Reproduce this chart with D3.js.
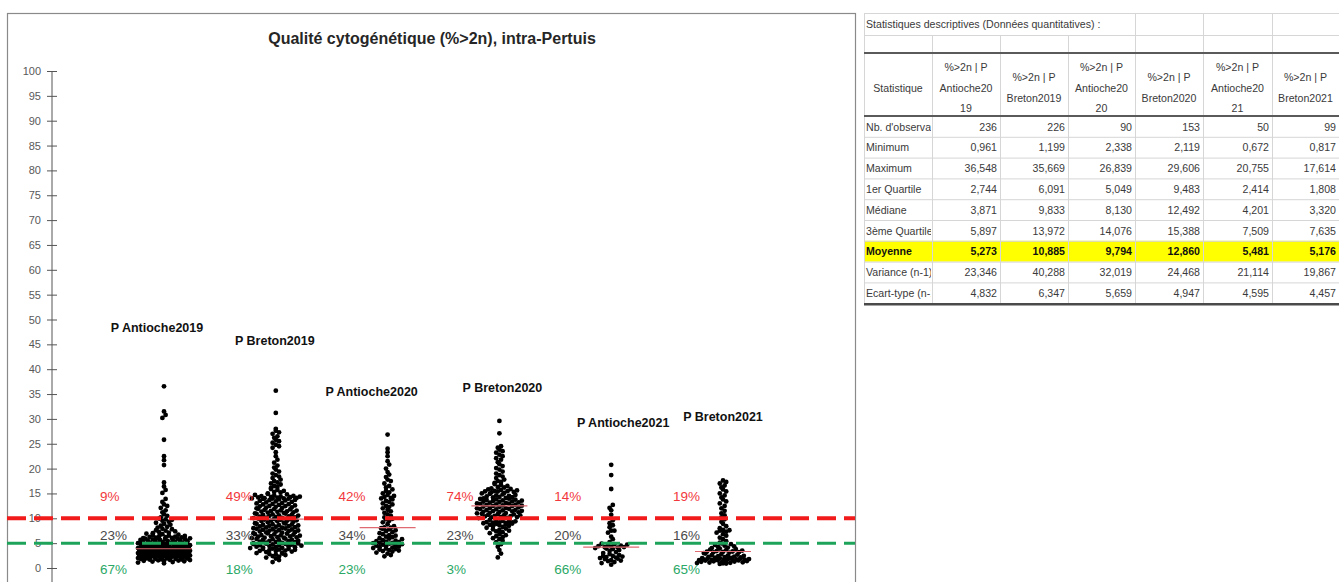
<!DOCTYPE html>
<html>
<head>
<meta charset="utf-8">
<script src="https://cdn.jsdelivr.net/npm/d3@7"></script>
<style>
  body { margin: 0; background: #fff; }
  svg { display: block; }
</style>
</head>
<body>
<svg id="chart" width="1339" height="582"></svg>
<script>
// ---------- data ----------
const categories = ["P Antioche2019", "P Breton2019", "P Antioche2020", "P Breton2020", "P Antioche2021", "P Breton2021"];
const tableHeaders = [["%>2n | P", "Antioche20", "19"], ["%>2n | P", "Breton2019"], ["%>2n | P", "Antioche20", "20"],
                      ["%>2n | P", "Breton2020"], ["%>2n | P", "Antioche20", "21"], ["%>2n | P", "Breton2021"]];

// % cells >2n per sample, one array per site/year
const antioche2019 = [
  0.96, 1.1, 1.2, 1.3, 1.35, 1.4, 1.45, 1.5, 1.55, 1.6, 1.65, 1.7, 1.72, 1.75, 1.8, 1.82, 1.85, 1.9, 1.92, 1.95,
  2.0, 2.02, 2.05, 2.08, 2.1, 2.12, 2.15, 2.18, 2.2, 2.22, 2.25, 2.28, 2.3, 2.32, 2.35, 2.38, 2.4, 2.42, 2.44, 2.46,
  2.48, 2.5, 2.52, 2.54, 2.56, 2.58, 2.6, 2.61, 2.62, 2.63, 2.64, 2.65, 2.66, 2.67, 2.68, 2.69, 2.7, 2.72, 2.74,
  2.75, 2.77, 2.78, 2.8, 2.83, 2.85, 2.86, 2.88, 2.9, 2.93, 2.95, 2.96, 2.98, 3.0, 3.02, 3.05, 3.07, 3.08, 3.1, 3.12,
  3.15, 3.17, 3.2, 3.22, 3.24, 3.25, 3.28, 3.3, 3.33, 3.35, 3.37, 3.4, 3.42, 3.44, 3.47, 3.5, 3.52, 3.54, 3.56, 3.58,
  3.6, 3.62, 3.64, 3.66, 3.68, 3.7, 3.72, 3.74, 3.76, 3.78, 3.8, 3.81, 3.82, 3.83, 3.84, 3.85, 3.86, 3.87, 3.87,
  3.872, 3.9, 3.92, 3.95, 3.98, 4.0, 4.03, 4.05, 4.08, 4.1, 4.13, 4.15, 4.18, 4.2, 4.23, 4.26, 4.29, 4.32, 4.35, 4.38,
  4.41, 4.44, 4.47, 4.5, 4.53, 4.56, 4.6, 4.63, 4.66, 4.7, 4.73, 4.76, 4.8, 4.83, 4.86, 4.89, 4.92, 4.95, 4.97, 4.99, 4.995,
  5.0, 5.05, 5.1, 5.12, 5.2, 5.25, 5.3, 5.33, 5.4, 5.45, 5.5, 5.55, 5.6, 5.65, 5.7, 5.76, 5.8, 5.85,
  5.9, 5.92, 5.95, 5.98, 6.0, 6.05, 6.1, 6.15, 6.2, 6.25, 6.3, 6.4, 6.45, 6.5, 6.6, 6.7, 6.8, 6.9, 7.0, 7.1,
  7.2, 7.35, 7.5, 7.6, 7.8, 7.9, 8.1, 8.3, 8.5, 8.7, 8.9, 9.1, 9.3, 9.5, 9.7, 9.8, 9.95,
  10.2, 10.5, 10.8, 11.2, 11.6, 12.1, 12.5, 12.8, 13.3, 13.9, 15.1, 15.7, 16.4, 17.2, 20.7, 21.7, 22.5, 25.8,
  30.2, 30.8, 31.5, 36.55
];
const breton2019 = [
  1.2, 1.6, 1.9, 2.1, 2.3, 2.4, 2.6, 2.7, 2.8, 2.9, 3.0, 3.1, 3.2, 3.3, 3.4, 3.45, 3.5, 3.6, 3.65, 3.7,
  3.8, 3.85, 3.9, 4.0, 4.05, 4.1, 4.2, 4.25, 4.3, 4.4, 4.45, 4.5, 4.55, 4.6, 4.7, 4.75, 4.8, 4.85, 4.9, 4.95,
  5.0, 5.05, 5.1, 5.2, 5.25, 5.3, 5.4, 5.45, 5.5, 5.6, 5.65, 5.7, 5.8, 5.85, 5.9, 6.0, 6.09,
  6.1, 6.15, 6.2, 6.3, 6.35, 6.4, 6.5, 6.55, 6.6, 6.7, 6.75, 6.8, 6.9, 6.95, 7.0, 7.1, 7.15, 7.2, 7.3, 7.35,
  7.4, 7.5, 7.55, 7.6, 7.7, 7.75, 7.8, 7.9, 7.95, 8.0, 8.1, 8.15, 8.2, 8.3, 8.35, 8.4, 8.5, 8.55, 8.6, 8.7,
  8.75, 8.8, 8.9, 8.95, 9.0, 9.1, 9.2, 9.3, 9.4, 9.45, 9.5, 9.55, 9.6, 9.7, 9.75, 9.8, 9.86, 9.95,
  10.05, 10.1, 10.15, 10.2, 10.3, 10.35, 10.4, 10.5, 10.55, 10.6, 10.7, 10.75, 10.8, 10.9, 10.95, 11.0, 11.1, 11.15, 11.2, 11.3,
  11.35, 11.4, 11.5, 11.55, 11.6, 11.7, 11.8, 11.85, 11.9, 12.0, 12.1, 12.15, 12.2, 12.3, 12.4, 12.45, 12.5, 12.6, 12.7, 12.8,
  12.85, 12.9, 13.0, 13.1, 13.2, 13.3, 13.4, 13.5, 13.6, 13.65, 13.7, 13.8, 13.9, 13.95,
  13.98, 14.0, 14.02, 14.05, 14.1, 14.15, 14.2, 14.25, 14.3, 14.35, 14.4, 14.45, 14.5, 14.6, 14.7, 14.8, 14.9,
  15.0, 15.2, 15.3, 15.5, 15.7, 15.9, 16.1, 16.3, 16.5, 16.8, 17.0, 17.2, 17.5, 17.8, 18.1, 18.4, 18.7, 19.0, 19.4, 19.8,
  20.2, 20.6, 21.2, 21.8, 22.5, 23.3, 24.2, 24.5, 24.8, 25.2, 25.5, 25.8, 26.2, 26.5, 27.0, 27.3, 27.6, 28.0, 31.2, 35.67
];
const antioche2020 = [
  2.34, 2.6, 2.9, 3.1, 3.3, 3.4, 3.5, 3.6, 3.7, 3.8, 3.9, 4.0, 4.1, 4.2, 4.3, 4.4, 4.5, 4.6, 4.7, 4.8, 4.9,
  5.0, 5.04, 5.07, 5.2, 5.3, 5.4, 5.5, 5.6, 5.8, 5.9, 6.0, 6.2, 6.3, 6.5, 6.6, 6.8, 7.0, 7.2, 7.4, 7.6,
  7.8, 7.9, 8.0, 8.1, 8.16, 8.4, 8.8, 9.2, 9.5, 9.8, 9.9,
  10.2, 10.5, 10.8, 11.1, 11.4, 11.7, 12.0, 12.3, 12.5, 12.8, 13.0, 13.3, 13.5, 13.8, 14.0,
  14.1, 14.3, 14.5, 14.7, 15.0, 15.2, 15.5, 15.8, 16.2, 16.5, 17.0, 17.5, 17.8, 18.3, 18.8, 19.3, 20.0, 20.8,
  21.5, 22.5, 23.3, 24.0, 26.84
];
const breton2020 = [
  2.12, 2.9, 3.6, 4.3, 4.8,
  5.2, 5.5, 5.8, 6.0, 6.2, 6.4, 6.6, 6.8, 7.0, 7.2, 7.35, 7.5, 7.65, 7.8, 7.95, 8.1, 8.25, 8.4, 8.5, 8.6,
  8.7, 8.8, 8.9, 8.95, 9.0, 9.05, 9.1, 9.15, 9.2, 9.25, 9.3, 9.35, 9.4, 9.48, 9.7,
  10.05, 10.1, 10.2, 10.25, 10.3, 10.4, 10.45, 10.5, 10.6, 10.65, 10.7, 10.8, 10.85, 10.9, 11.0, 11.05, 11.1, 11.2, 11.25, 11.3,
  11.4, 11.45, 11.5, 11.6, 11.65, 11.7, 11.8, 11.85, 11.9, 12.0, 12.05, 12.1, 12.2, 12.3, 12.35, 12.45, 12.49,
  12.55, 12.6, 12.7, 12.75, 12.8, 12.9, 12.95, 13.0, 13.1, 13.15, 13.2, 13.3, 13.35, 13.4, 13.5, 13.55, 13.6, 13.7, 13.75, 13.8,
  13.9, 13.95, 14.0, 14.1, 14.2, 14.25, 14.3, 14.4, 14.5, 14.6, 14.7, 14.8, 14.9, 15.0, 15.1, 15.2, 15.3, 15.39,
  15.4, 15.45, 15.5, 15.6, 15.7, 15.8, 15.9, 16.0, 16.2, 16.3, 16.5, 16.7, 16.9, 17.1, 17.3, 17.5, 17.8, 18.1, 18.4, 18.7,
  19.0, 19.4, 19.8, 20.1, 20.5, 20.9, 21.3, 21.8, 22.1, 22.5, 22.8, 23.2, 23.5, 23.8, 24.2, 24.5, 27.1, 29.6
];
const antioche2021 = [
  0.67, 1.0, 1.2, 1.4, 1.5, 1.6, 1.8, 1.9, 2.0, 2.1, 2.2, 2.3, 2.41, 2.42, 2.6, 2.8, 3.0, 3.2, 3.4, 3.6,
  3.8, 3.9, 4.0, 4.1, 4.18, 4.22, 4.3, 4.4, 4.5, 4.6, 4.7, 4.8, 4.9,
  5.2, 5.8, 6.3, 7.1, 7.5, 7.52, 8.2, 8.6, 9.0, 9.6,
  10.7, 11.6, 12.1, 12.7, 15.9, 18.7, 20.76
];
const breton2021 = [
  0.82, 0.9, 0.95, 1.0, 1.05, 1.1, 1.15, 1.2, 1.25, 1.3, 1.35, 1.4, 1.45, 1.5, 1.52, 1.55, 1.58, 1.6, 1.63, 1.66,
  1.69, 1.72, 1.75, 1.78, 1.8, 1.82, 1.86, 1.9, 1.95, 2.0, 2.05, 2.1, 2.15, 2.2, 2.25, 2.3, 2.38, 2.45, 2.5, 2.6,
  2.7, 2.8, 2.9, 3.0, 3.1, 3.15, 3.2, 3.25, 3.3, 3.32, 3.4, 3.5, 3.6, 3.7, 3.8, 3.9, 4.0, 4.1, 4.2, 4.35,
  4.5, 4.65, 4.8, 4.95,
  5.1, 5.4, 5.8, 6.1, 6.5, 6.8, 7.1, 7.3, 7.5, 7.6, 7.67, 8.0, 8.4, 8.9, 9.3, 9.8,
  10.2, 10.6, 11.0, 11.5, 12.0, 12.5, 13.0, 13.4, 13.8, 14.2, 14.6, 15.0, 15.4, 15.8, 16.2, 16.6, 17.0, 17.3, 17.61
];
const seriesValues = [antioche2019, breton2019, antioche2020, breton2020, antioche2021, breton2021];

// quality thresholds (% >2n)
const lowThreshold = 5;
const highThreshold = 10;

const yTickValues = [0, 5, 10, 15, 20, 25, 30, 35, 40, 45, 50, 55, 60, 65, 70, 75, 80, 85, 90, 95, 100];

// descriptive statistics
const statNames = ["Nb. d'observations", "Minimum", "Maximum", "1er Quartile", "Médiane", "3ème Quartile", "Moyenne", "Variance (n-1)", "Ecart-type (n-1)"];
const statCount    = [236, 226, 90, 153, 50, 99];
const statMin      = [0.961, 1.199, 2.338, 2.119, 0.672, 0.817];
const statMax      = [36.548, 35.669, 26.839, 29.606, 20.755, 17.614];
const statQ1       = [2.744, 6.091, 5.049, 9.483, 2.414, 1.808];
const statMedian   = [3.871, 9.833, 8.130, 12.492, 4.201, 3.320];
const statQ3       = [5.897, 13.972, 14.076, 15.388, 7.509, 7.635];
const statMean     = [5.273, 10.885, 9.794, 12.860, 5.481, 5.176];
const statVariance = [23.346, 40.288, 32.019, 24.468, 21.114, 19.867];
const statStd      = [4.832, 6.347, 5.659, 4.947, 4.595, 4.457];

// ---------- layout ----------
const svg = d3.select("#chart");
const FONT = "'Liberation Sans', Arial, sans-serif";

const frame = { left: 7, top: 13, right: 855, bottom: 600 };
const y = d3.scaleLinear().domain([0, 100]).range([568, 71]);
const x = d3.scaleLinear().domain([0, categories.length - 1]).range([164, 723]);

// annotation placement (offsets in px, heights in % units)
const catLabelDx = [-7, -1, -16, 3, 12, 0];
const catLabelAt = [48.3, 45.7, 35.4, 36.2, 29.2, 30.4];
const pctLabelDx = [-64, -50, -49, -53, -57, -50];
const pctLabelAt = { high: 14.4, mid: 6.6, low: -0.2 };

const COL_RED = "#f21b1b";
const COL_GREEN = "#1ea35a";
const COL_RED_TXT = "#f2383c";
const COL_GREEN_TXT = "#2aa866";
const COL_GREY_TXT = "#4a4a4a";

// chart frame
svg.append("rect")
  .attr("x", frame.left + 0.5).attr("y", frame.top + 0.5)
  .attr("width", frame.right - frame.left).attr("height", frame.bottom - frame.top)
  .attr("fill", "#fff").attr("stroke", "#8a8a8a").attr("stroke-width", 1.2);

svg.append("text")
  .attr("x", 432).attr("y", 44)
  .attr("text-anchor", "middle")
  .attr("font-family", FONT).attr("font-size", 16).attr("font-weight", "bold")
  .attr("fill", "#262626")
  .text("Qualité cytogénétique (%>2n), intra-Pertuis");

// y axis
const axisX = 52;
const gAxis = svg.append("g").attr("transform", `translate(${axisX},0)`)
  .call(d3.axisLeft(y).tickValues(yTickValues).tickSize(5).tickPadding(6));
gAxis.select(".domain").remove();
gAxis.selectAll(".tick line").attr("x1", -5).attr("x2", 5).attr("stroke", "#555");
gAxis.selectAll(".tick text")
  .attr("font-family", FONT).attr("font-size", 11).attr("fill", "#595959");
gAxis.append("line")
  .attr("x1", 0).attr("x2", 0).attr("y1", y(100)).attr("y2", 582)
  .attr("stroke", "#555").attr("stroke-width", 1);

// dot-strip layout: values grouped into rows, row members spread side by side;
// slots are handed out in golden-ratio order so a row has no visible streaks
const ROW = 1;       // row height in % units
const GAP = 3.2;     // px between neighbours
const MAX_W = 52;    // widest row in px
const PHI = 0.6180339887;
function strip(values) {
  const rows = d3.groups(values.slice().sort(d3.ascending), v => Math.floor(v / ROW));
  const out = [];
  rows.forEach(([, vs]) => {
    const n = vs.length;
    const step = n > 1 ? Math.min(GAP, MAX_W / (n - 1)) : 0;
    const order = d3.range(n).sort((a, b) => ((a * PHI) % 1) - ((b * PHI) % 1));
    const slotOf = new Array(n);
    order.forEach((k, s) => { slotOf[k] = s; });
    vs.forEach((v, k) => {
      out.push({ v, dx: (slotOf[k] - (n - 1) / 2) * step });
    });
  });
  return out;
}

const gDots = svg.append("g");
seriesValues.forEach((vals, i) => {
  gDots.append("g").selectAll("circle")
    .data(strip(vals))
    .join("circle")
    .attr("cx", d => x(i) + d.dx)
    .attr("cy", d => y(d.v))
    .attr("r", 2.4)
    .attr("fill", "#000");
});

// median marks
svg.append("g").selectAll("line")
  .data(statMedian)
  .join("line")
  .attr("x1", (d, i) => x(i) - 28).attr("x2", (d, i) => x(i) + 28)
  .attr("y1", d => y(d)).attr("y2", d => y(d))
  .attr("stroke", "#e06a72").attr("stroke-width", 1.2);

// threshold lines
svg.append("line")
  .attr("x1", frame.left).attr("x2", frame.right)
  .attr("y1", y(highThreshold)).attr("y2", y(highThreshold))
  .attr("stroke", COL_RED).attr("stroke-width", 4).attr("stroke-dasharray", "19,8");
svg.append("line")
  .attr("x1", frame.left).attr("x2", frame.right)
  .attr("y1", y(lowThreshold)).attr("y2", y(lowThreshold))
  .attr("stroke", COL_GREEN).attr("stroke-width", 3).attr("stroke-dasharray", "19,8");

// category labels
svg.append("g").selectAll("text")
  .data(categories)
  .join("text")
  .attr("x", (d, i) => x(i) + catLabelDx[i])
  .attr("y", (d, i) => y(catLabelAt[i]) + 4)
  .attr("text-anchor", "middle")
  .attr("font-family", FONT).attr("font-size", 12.5).attr("font-weight", "bold")
  .attr("fill", "#111")
  .text(d => d);

// share of samples above / between / below the thresholds
const pct = d3.format(".0%");
const shares = seriesValues.map(vals => ({
  high: vals.filter(v => v > highThreshold).length / vals.length,
  mid: vals.filter(v => v >= lowThreshold && v <= highThreshold).length / vals.length,
  low: vals.filter(v => v < lowThreshold).length / vals.length
}));
const gPct = svg.append("g")
  .attr("font-family", FONT).attr("font-size", 13.5);
[["high", COL_RED_TXT], ["mid", COL_GREY_TXT], ["low", COL_GREEN_TXT]].forEach(([key, col]) => {
  gPct.append("g").selectAll("text")
    .data(shares)
    .join("text")
    .attr("x", (d, i) => x(i) + pctLabelDx[i])
    .attr("y", y(pctLabelAt[key]) + 5)
    .attr("fill", col)
    .text(d => pct(d[key]));
});

// ---------- statistics table ----------
const colX = [864, 932, 1000, 1068, 1135, 1203, 1272, 1339];
const rowH = 20.8;
const tTop = 13, tRow2 = 35, tHead = 53, tBody = 116;
const tBottom = tBody + rowH * statNames.length;
const gT = svg.append("g").attr("font-family", FONT).attr("font-size", 10.6).attr("fill", "#3a3a3a");
const GRID = "#d6d6d6";

const meanRow = 6;
gT.append("rect")
  .attr("x", colX[0]).attr("y", tBody + rowH * meanRow)
  .attr("width", colX[7] - colX[0]).attr("height", rowH)
  .attr("fill", "#ffff00");

// grid lines
const hLines = [tTop, tRow2].concat(d3.range(1, statNames.length).map(k => tBody + k * rowH));
gT.selectAll("line.h").data(hLines).join("line")
  .attr("x1", colX[0]).attr("x2", colX[7])
  .attr("y1", d => d + 0.5).attr("y2", d => d + 0.5)
  .attr("stroke", GRID);
gT.selectAll("line.vt").data(colX.slice(4)).join("line")
  .attr("x1", d => d + 0.5).attr("x2", d => d + 0.5)
  .attr("y1", tTop).attr("y2", tRow2).attr("stroke", GRID);
gT.selectAll("line.vb").data(colX).join("line")
  .attr("x1", d => d + 0.5).attr("x2", d => d + 0.5)
  .attr("y1", (d, i) => (i === 0 ? tTop : tRow2)).attr("y2", tBottom).attr("stroke", GRID);
[tHead, tBody].forEach(yy => {
  gT.append("line").attr("x1", colX[0]).attr("x2", colX[7])
    .attr("y1", yy).attr("y2", yy).attr("stroke", "#5a5a5a").attr("stroke-width", 2);
});
gT.append("line").attr("x1", colX[0]).attr("x2", colX[7])
  .attr("y1", tBottom + 1).attr("y2", tBottom + 1).attr("stroke", "#4a4a4a").attr("stroke-width", 2.5);

gT.append("text")
  .attr("x", colX[0] + 2).attr("y", tTop + 15)
  .text("Statistiques descriptives (Données quantitatives) :");

// header
gT.append("text")
  .attr("x", (colX[0] + colX[1]) / 2).attr("y", 92)
  .attr("text-anchor", "middle").text("Statistique");
tableHeaders.forEach((lines, j) => {
  const cx = (colX[j + 1] + colX[j + 2]) / 2;
  const first = lines.length === 3 ? 71 : 81;
  gT.append("text")
    .attr("text-anchor", "middle")
    .selectAll("tspan").data(lines).join("tspan")
    .attr("x", cx).attr("y", (d, k) => first + k * 20.5)
    .text(d => d);
});

// body
const fr = d3.formatLocale({ decimal: ",", thousands: "\u00a0", grouping: [3], currency: ["", ""] });
const f3 = fr.format(".3f");
const fInt = fr.format("d");
const statRows = [
  [statCount, fInt], [statMin, f3], [statMax, f3], [statQ1, f3], [statMedian, f3],
  [statQ3, f3], [statMean, f3], [statVariance, f3], [statStd, f3]
];
svg.append("defs").append("clipPath").attr("id", "firstCol")
  .append("rect").attr("x", colX[0]).attr("y", tBody).attr("width", colX[1] - colX[0] - 1).attr("height", tBottom - tBody);
statNames.forEach((name, r) => {
  const yy = tBody + r * rowH + 14.5;
  const bold = r === meanRow ? "bold" : null;
  gT.append("text")
    .attr("x", colX[0] + 2).attr("y", yy)
    .attr("clip-path", "url(#firstCol)")
    .attr("font-weight", bold)
    .attr("fill", r === meanRow ? "#111" : null)
    .text(name);
  const [vals, fmt] = statRows[r];
  vals.forEach((v, j) => {
    gT.append("text")
      .attr("x", colX[j + 2] - 3).attr("y", yy)
      .attr("text-anchor", "end")
      .attr("font-weight", bold)
      .attr("fill", r === meanRow ? "#111" : null)
      .text(fmt(v));
  });
});
</script>
</body>
</html>
